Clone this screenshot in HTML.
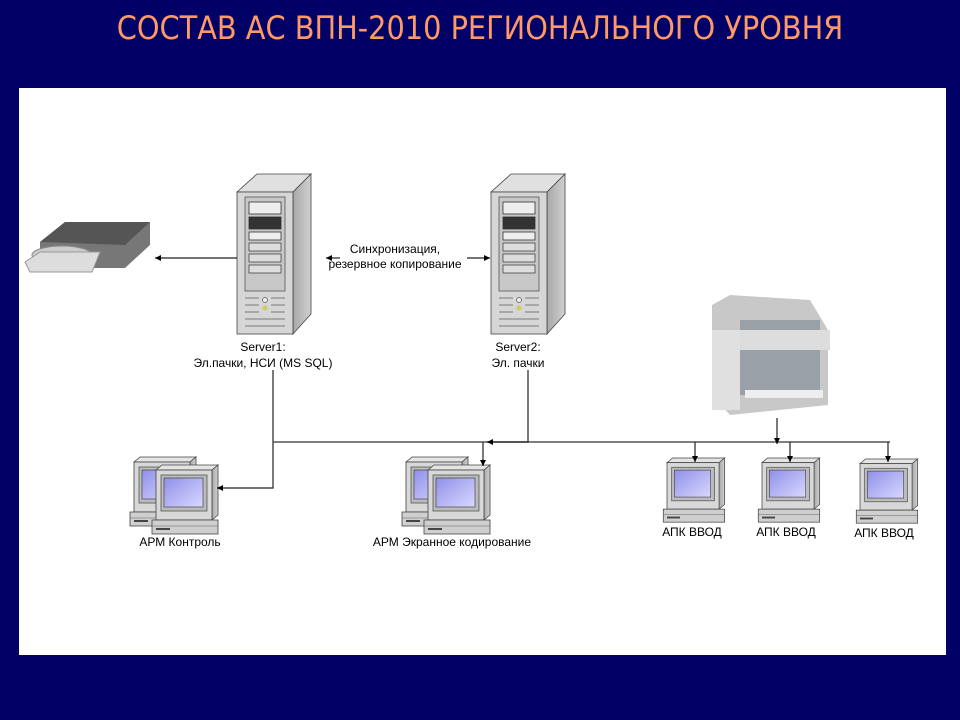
<!DOCTYPE html>
<html><head><meta charset="utf-8"><style>
html,body{margin:0;padding:0;width:960px;height:720px;overflow:hidden;background:#000066}
svg{display:block}
</style></head><body>
<svg width="960" height="720" viewBox="0 0 960 720" xmlns="http://www.w3.org/2000/svg" font-family="Liberation Sans, sans-serif">
<defs>
<linearGradient id="scr" x1="0" y1="0" x2="1" y2="1"><stop offset="0" stop-color="#9090e8"/><stop offset="1" stop-color="#d8d8ff"/></linearGradient>
<linearGradient id="side" x1="0" y1="0" x2="1" y2="0"><stop offset="0" stop-color="#a8a8a8"/><stop offset="1" stop-color="#d0d0d0"/></linearGradient>
<g id="pc">
<polygon points="0,5 6,0 62,0 56,5" fill="#e4e4e4" stroke="#444" stroke-width="0.8"/>
<polygon points="56,5 62,0 62,50 56,55" fill="url(#side)" stroke="#444" stroke-width="0.8"/>
<rect x="0" y="5" width="56" height="50" fill="#d8d8d8" stroke="#444" stroke-width="0.8"/>
<rect x="5" y="10" width="46" height="36" fill="#bbb" stroke="#555" stroke-width="0.8"/>
<rect x="8" y="13" width="39" height="29" fill="url(#scr)" stroke="#333" stroke-width="0.6"/>
<rect x="-4" y="55" width="66" height="14" fill="#cfcfcf" stroke="#444" stroke-width="0.8"/>
<line x1="-4" y1="61" x2="62" y2="61" stroke="#666" stroke-width="0.6"/>
<rect x="0" y="63" width="14" height="2" fill="#444"/>
</g>
<g id="srv">
<polygon points="0,18 20,0 74,0 56,18" fill="#e0e0e0" stroke="#444" stroke-width="0.8"/>
<polygon points="56,18 74,0 74,140 56,160" fill="url(#side)" stroke="#444" stroke-width="0.8"/>
<rect x="0" y="18" width="56" height="142" fill="#d6d6d6" stroke="#444" stroke-width="0.8"/>
<rect x="8" y="23" width="40" height="94" fill="#c8c8c8" stroke="#555" stroke-width="0.8"/>
<rect x="12" y="28" width="32" height="12" fill="#eee" stroke="#333" stroke-width="0.8"/>
<rect x="12" y="43" width="32" height="12" fill="#333" stroke="#333" stroke-width="0.8"/>
<rect x="12" y="58" width="32" height="8" fill="#eee" stroke="#333" stroke-width="0.8"/>
<rect x="12" y="69" width="32" height="8" fill="#ddd" stroke="#444" stroke-width="0.8"/>
<rect x="12" y="80" width="32" height="8" fill="#ddd" stroke="#444" stroke-width="0.8"/>
<rect x="12" y="91" width="32" height="8" fill="#ddd" stroke="#444" stroke-width="0.8"/>
<g stroke="#999" stroke-width="1.5">
<line x1="8" y1="124" x2="22" y2="124"/><line x1="34" y1="124" x2="48" y2="124"/>
<line x1="8" y1="131" x2="22" y2="131"/><line x1="34" y1="131" x2="48" y2="131"/>
<line x1="8" y1="138" x2="22" y2="138"/><line x1="34" y1="138" x2="48" y2="138"/>
<line x1="8" y1="145" x2="48" y2="145"/><line x1="8" y1="152" x2="48" y2="152"/></g>
<circle cx="28" cy="126" r="2.5" fill="#eee" stroke="#777"/><circle cx="28" cy="134" r="2.5" fill="#cc6"/>
</g>
<marker id="ar" viewBox="0 0 10 10" refX="10" refY="5" markerWidth="5" markerHeight="5" orient="auto"><path d="M0,0 L10,5 L0,10z" fill="#000"/></marker>
</defs>
<text x="480" y="39" text-anchor="middle" font-size="32" fill="#ff9966" font-family="DejaVu Sans Condensed, DejaVu Sans, sans-serif">СОСТАВ АС ВПН-2010 РЕГИОНАЛЬНОГО УРОВНЯ</text>
<rect x="19" y="88" width="927" height="567" fill="#fff"/>
<!-- drive -->
<polygon points="40,242 65,222 150,222 150,245 125,268 40,268" fill="#777"/>
<polygon points="40,242 65,222 150,222 125,245" fill="#555"/>
<ellipse cx="62" cy="255" rx="30" ry="9" fill="#ccc" stroke="#888"/>
<polygon points="25,262 40,252 100,252 92,272 30,272" fill="#ddd" stroke="#999"/>
<!-- servers -->
<use href="#srv" x="237" y="174"/>
<use href="#srv" x="491" y="174"/>
<g font-size="12" fill="#000" text-anchor="middle">
<text x="263" y="351">Server1:</text><text x="263" y="367">Эл.пачки, НСИ (MS SQL)</text>
<text x="518" y="351">Server2:</text><text x="518" y="367">Эл. пачки</text>
<text x="395" y="253">Синхронизация,</text><text x="395" y="268">резервное копирование</text>
<text x="180" y="546">АРМ Контроль</text><text x="452" y="546">АРМ Экранное кодирование</text>
<text x="692" y="536">АПК ВВОД</text><text x="786" y="536">АПК ВВОД</text><text x="884" y="537">АПК ВВОД</text>
</g>
<!-- scanner -->
<polygon points="712,305 730,295 810,300 828,330 828,405 730,415 712,395" fill="#c8c8c8"/>
<rect x="740" y="320" width="80" height="75" fill="#9aa0a8"/>
<rect x="735" y="330" width="95" height="20" fill="#ddd"/>
<rect x="712" y="330" width="28" height="80" fill="#e0e0e0"/>
<rect x="745" y="390" width="78" height="8" fill="#eee"/>
<!-- computers -->
<use href="#pc" x="134" y="457"/>
<use href="#pc" x="156" y="465"/>
<use href="#pc" x="406" y="457"/>
<use href="#pc" x="428" y="465"/>
<use href="#pc" transform="translate(667,458) scale(0.93)"/>
<use href="#pc" transform="translate(762,458) scale(0.93)"/>
<use href="#pc" transform="translate(860,459) scale(0.93)"/>
<!-- connectors -->
<g stroke="#222" stroke-width="1.2" fill="none">
<line x1="237" y1="258" x2="155" y2="258" marker-end="url(#ar)"/>
<line x1="340" y1="258" x2="326" y2="258" marker-end="url(#ar)"/>
<line x1="467" y1="258" x2="490" y2="258" marker-end="url(#ar)"/>
<polyline points="273,370 273,488 217,488" marker-end="url(#ar)"/>
<line x1="273" y1="442" x2="890" y2="442" stroke="#555" stroke-width="1.5"/>
<polyline points="528,370 528,442 487,442" marker-end="url(#ar)"/>
<polyline points="483,442 483,466" marker-end="url(#ar)"/>
<polyline points="777,418 777,444" marker-end="url(#ar)"/>
<polyline points="695,442 695,462" marker-end="url(#ar)"/>
<polyline points="790,442 790,462" marker-end="url(#ar)"/>
<polyline points="888,442 888,462" marker-end="url(#ar)"/>
</g>
</svg>
</body></html>
